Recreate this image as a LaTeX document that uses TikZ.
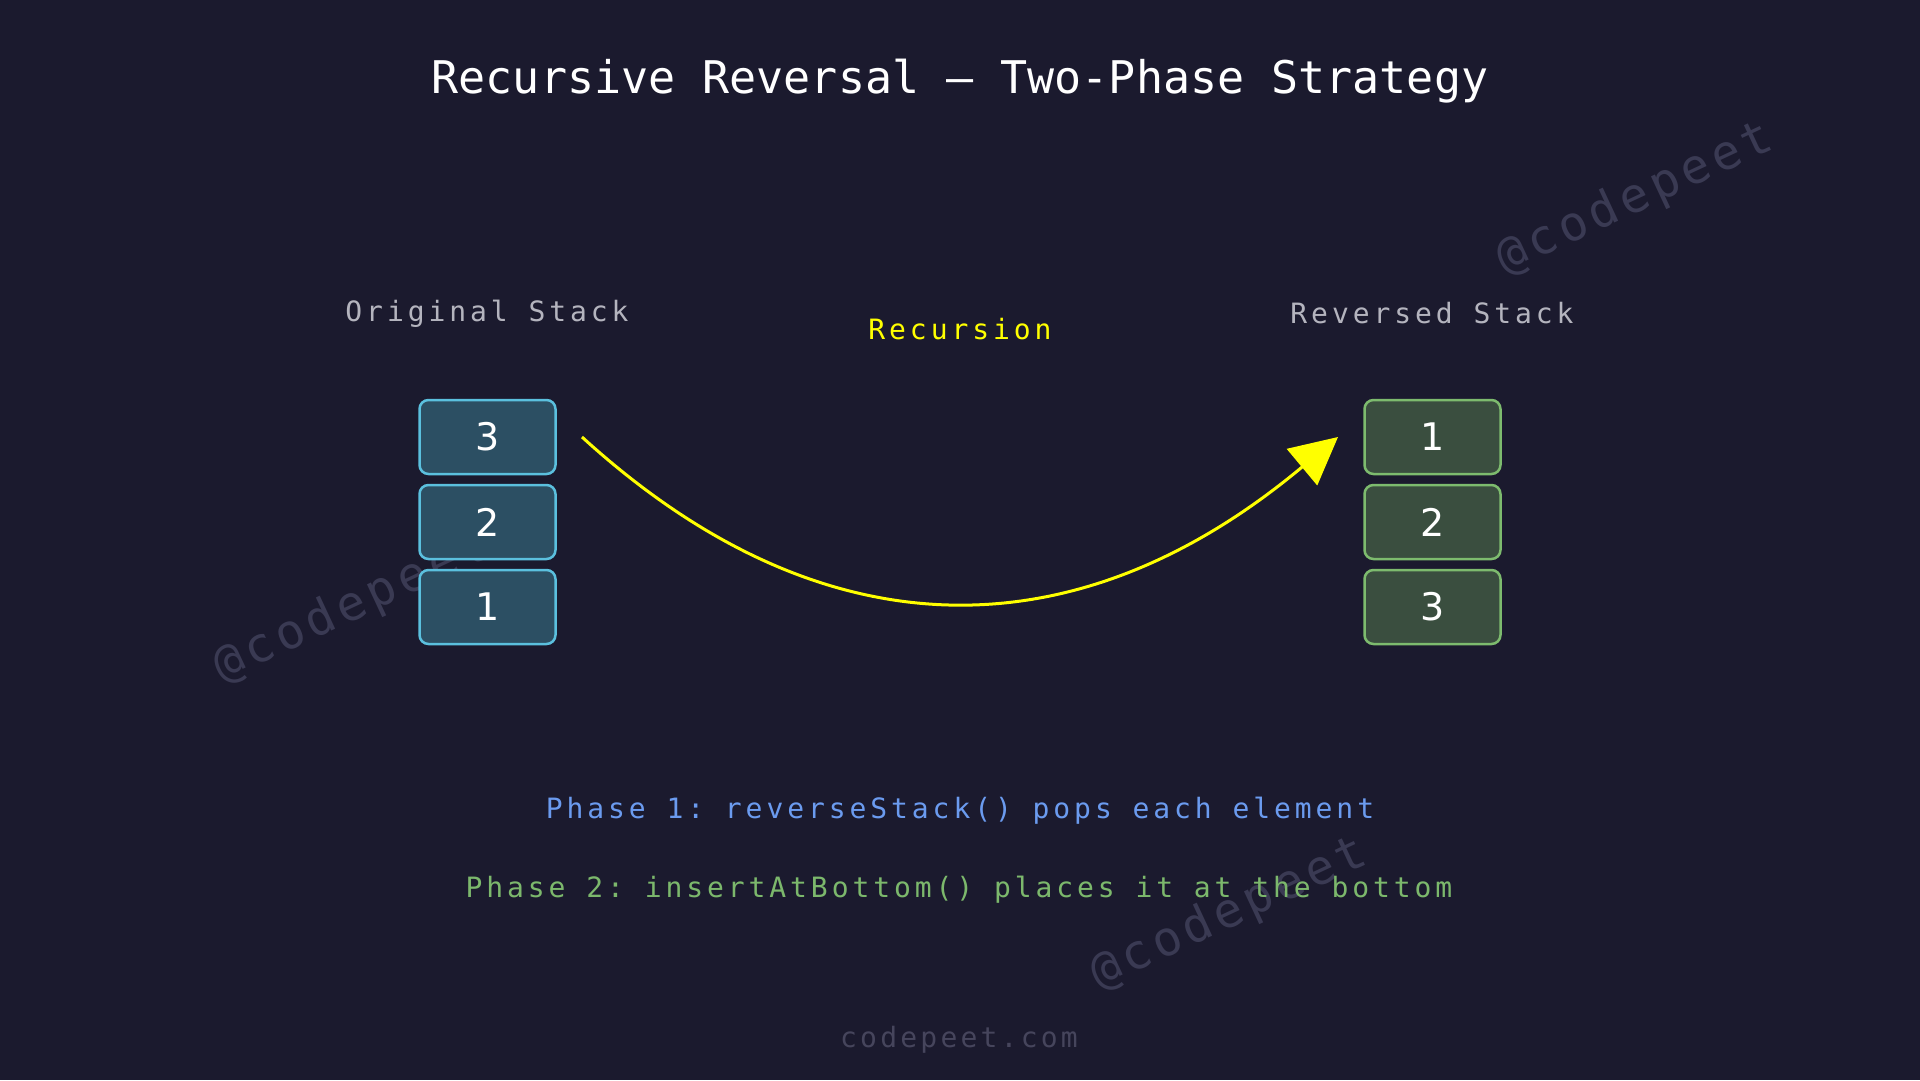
\documentclass[tikz,border=0pt]{standalone}
\usepackage{fontspec}
\setmainfont{DejaVu Sans}
\newfontfamily\monott{DejaVu Sans Mono}
\newfontfamily\monols[LetterSpace=14]{DejaVu Sans Mono}
\newfontfamily\monofoot[LetterSpace=11.5]{DejaVu Sans Mono}
\newfontfamily\monowm[LetterSpace=10]{DejaVu Sans Mono}
\newfontfamily\digitfont{DejaVu Sans}
\usetikzlibrary{arrows.meta}
\definecolor{bgc}{HTML}{1B1A2E}
\definecolor{lfill}{HTML}{2C4F63}
\definecolor{ldraw}{HTML}{5BC0DE}
\definecolor{rfill}{HTML}{3A4E3F}
\definecolor{rdraw}{HTML}{7DBB6E}
\definecolor{labgray}{HTML}{B4B4BE}
\definecolor{recyel}{HTML}{FFFF00}
\definecolor{ph1}{HTML}{6B9BEF}
\definecolor{ph2}{HTML}{7CB86C}
\definecolor{footc}{HTML}{46455C}
\definecolor{wmc}{HTML}{3A3A53}
\frenchspacing
\begin{document}
\begin{tikzpicture}[x=1pt,y=-1pt,
  every node/.style={inner sep=0pt, outer sep=0pt},
  titlestyle/.style={text=white, font=\monott\frenchspacing\fontsize{45}{54}\selectfont, anchor=base},
  labelstyle/.style={text=labgray, font=\monols\frenchspacing\fontsize{28}{34}\selectfont, anchor=base},
  footstyle/.style={text=footc, font=\monofoot\fontsize{28}{34}\selectfont, anchor=base},
  cellbox/.style={rounded corners=9pt, line width=2.5pt, minimum width=136pt, minimum height=74pt, text=white, font=\digitfont\fontsize{38}{44}\selectfont},
  leftcell/.style={cellbox, fill=lfill, draw=ldraw},
  rightcell/.style={cellbox, fill=rfill, draw=rdraw},
  wmark/.style={text=wmc, font=\monowm\fontsize{48}{56}\selectfont, rotate=25},
  arrowstyle/.style={draw=recyel, line width=3pt, -{Triangle[length=47pt,width=47pt]}}
]
\fill[bgc] (0,0) rectangle (1920,1080);
\useasboundingbox (0,0) rectangle (1920,1080);

% watermarks
\node[wmark] (wm1) at (1635,199) {@codepeet};
\node[wmark] (wm2) at (352,607) {@codepeet};
\node[wmark] (wm3) at (1229,914) {@codepeet};

% title
\node[titlestyle] (title) at (960,93) {Recursive Reversal — Two-Phase Strategy};

% labels
\node[labelstyle] (origlab) at (487,321) {Original Stack};
\node[labelstyle] (revlab) at (1432,323) {Reversed Stack};
\node[labelstyle, text=recyel] (reclab) at (960,339) {Recursion};

% left stack
\node[leftcell] (l3) at (487.5,437) {3};
\node[leftcell] (l2) at (487.5,522) {2};
\node[leftcell] (l1) at (487.5,607) {1};

% right stack
\node[rightcell] (r1) at (1432.5,437) {1};
\node[rightcell] (r2) at (1432.5,522) {2};
\node[rightcell] (r3) at (1432.5,607) {3};

% arrow
\coordinate (arrs) at (582,437);
\coordinate (arre) at (1338,437);
\draw[arrowstyle] (arrs) .. controls (822,656) and (1076,656) .. (arre);

% phase texts
\node[labelstyle, text=ph1] (phase1) at (960,818) {Phase 1: reverseStack() pops each element};
\node[labelstyle, text=ph2] (phase2) at (959,897) {Phase 2: insertAtBottom() places it at the bottom};

% footer
\node[footstyle] (footer) at (959,1047) {codepeet.com};
\end{tikzpicture}
\end{document}
